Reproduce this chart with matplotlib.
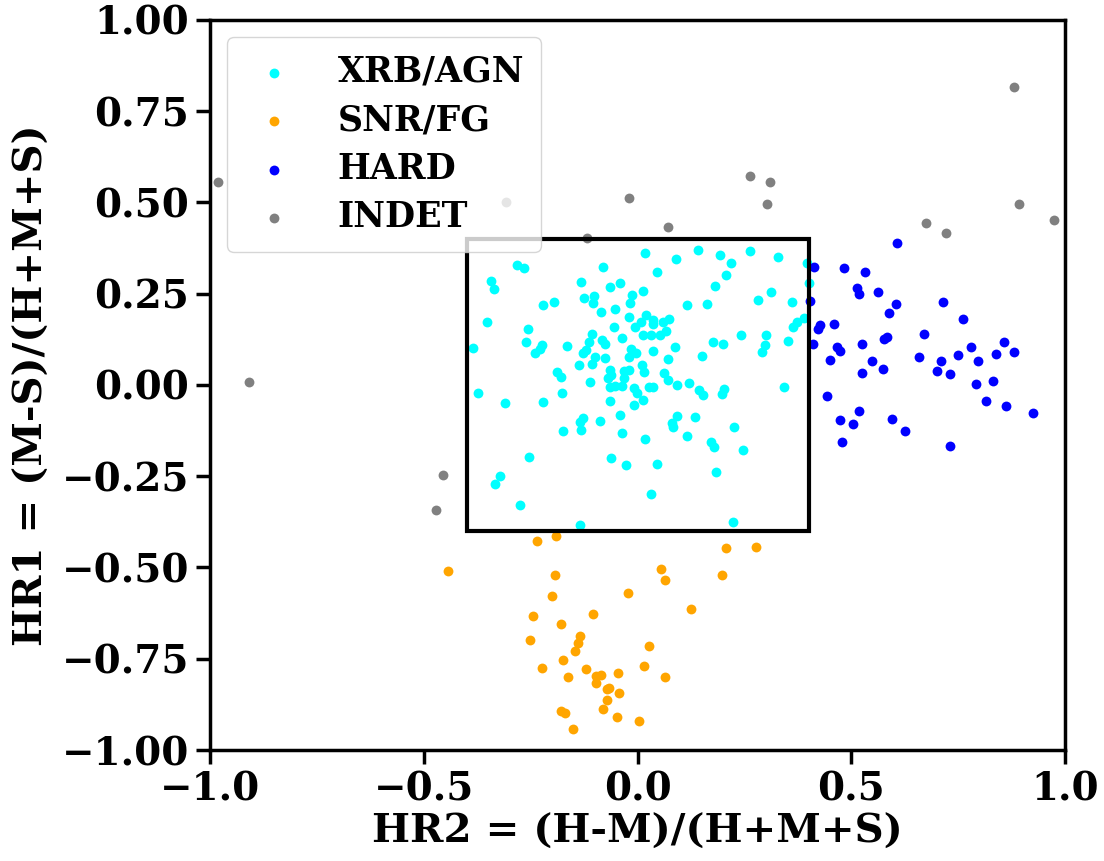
import numpy as np
import matplotlib
matplotlib.use('Agg')
import matplotlib.pyplot as plt
from matplotlib.patches import Rectangle

plt.rcParams['font.family'] = ['DejaVu Serif']
plt.rcParams['font.weight'] = 'bold'
plt.rcParams['axes.unicode_minus'] = True

# XRB/AGN (cyan)
xrb_x = [-0.283, -0.265, -0.080, -0.343, -0.336, -0.132, -0.064, -0.041, -0.014, -0.018,
         0.012, -0.125, -0.101, -0.105, -0.222, -0.195, -0.086, -0.053, -0.019, -0.351,
         -0.257, -0.056, -0.005, -0.106, -0.037, -0.261, -0.113, -0.082, -0.076, -0.385,
         -0.223, -0.228, -0.165, -0.120, -0.127, -0.240, -0.016, -0.004, -0.019, -0.100,
         -0.076, -0.136, -0.106, -0.188, -0.180, -0.065, -0.063, -0.070, -0.032, -0.020,
         -0.032, -0.112, -0.053, -0.036, -0.008, -0.002, -0.065, 0.008, 0.020, 0.037,
         0.037, 0.059, 0.074, 0.012, 0.032, 0.053, 0.067, 0.010, 0.015, 0.063,
         0.071, 0.037, 0.088, 0.071, 0.027, 0.036, 0.092, 0.120, 0.144, -0.064,
         0.013, 0.116, 0.018, 0.090, 0.142, 0.193, 0.218, 0.262, 0.328, 0.396,
         0.045, 0.207, 0.181, 0.402, 0.312, 0.283, 0.361, 0.162, 0.390, 0.372,
         0.364, 0.241, 0.300, 0.177, 0.199, 0.352, 0.298, 0.291, 0.150, 0.203,
         0.343, -0.372, -0.310, -0.220, -0.177, -0.008, -0.041, -0.128, -0.135, -0.087,
         -0.174, -0.132, -0.036, -0.253, -0.062, -0.028, -0.322, -0.333, -0.275, -0.135,
         0.154, 0.198, 0.092, 0.080, 0.084, 0.135, 0.226, 0.115, 0.018, 0.172,
         0.179, 0.246, 0.045, 0.183, 0.031, 0.224]
xrb_y = [0.329, 0.320, 0.322, 0.286, 0.263, 0.281, 0.269, 0.280, 0.247, 0.224,
         0.258, 0.237, 0.244, 0.225, 0.218, 0.227, 0.201, 0.208, 0.186, 0.173,
         0.153, 0.158, 0.160, 0.140, 0.128, 0.118, 0.119, 0.123, 0.111, 0.101,
         0.109, 0.099, 0.107, 0.097, 0.088, 0.087, 0.098, 0.087, 0.078, 0.077,
         0.073, 0.055, 0.057, 0.036, 0.023, 0.041, 0.027, 0.018, 0.038, 0.042,
         0.019, 0.008, -0.004, -0.004, -0.008, -0.021, -0.005, 0.173, 0.192, 0.178,
         0.166, 0.172, 0.180, 0.137, 0.137, 0.137, 0.149, 0.055, 0.036, 0.032,
         0.014, 0.094, 0.103, 0.071, -0.006, -0.006, 0.000, 0.005, -0.014, -0.044,
         -0.041, 0.219, 0.362, 0.345, 0.370, 0.356, 0.335, 0.367, 0.352, 0.333,
         0.309, 0.301, 0.271, 0.279, 0.256, 0.233, 0.227, 0.222, 0.183, 0.173,
         0.160, 0.136, 0.136, 0.119, 0.112, 0.121, 0.110, 0.091, 0.080, -0.010,
         -0.005, -0.021, -0.048, -0.047, -0.023, -0.055, -0.082, -0.091, -0.101, -0.099,
         -0.126, -0.123, -0.132, -0.197, -0.200, -0.218, -0.248, -0.271, -0.330, -0.384,
         -0.027, -0.025, -0.085, -0.105, -0.116, -0.088, -0.116, -0.139, -0.148, -0.155,
         -0.169, -0.179, -0.216, -0.239, -0.299, -0.375]

# SNR/FG (orange)
snr_x = [-0.234, -0.191, -0.444, -0.194, 0.056, 0.065, 0.207, 0.277, 0.198, -0.200,
         -0.022, -0.245, -0.103, 0.124, -0.180, -0.252, -0.134, -0.139, -0.146, 0.026,
         -0.175, -0.223, -0.120, 0.015, -0.162, -0.097, -0.086, -0.098, -0.046, 0.065,
         -0.072, -0.067, -0.044, -0.071, -0.080, -0.180, -0.169, -0.048, 0.004, -0.150]
snr_y = [-0.427, -0.414, -0.510, -0.521, -0.505, -0.534, -0.447, -0.443, -0.521, -0.579,
         -0.571, -0.632, -0.627, -0.613, -0.656, -0.698, -0.687, -0.707, -0.728, -0.714,
         -0.753, -0.775, -0.777, -0.769, -0.801, -0.797, -0.795, -0.816, -0.788, -0.801,
         -0.833, -0.829, -0.844, -0.863, -0.888, -0.894, -0.898, -0.910, -0.921, -0.942]

# HARD (blue)
hard_x = [0.413, 0.404, 0.427, 0.422, 0.410, 0.450, 0.443, 0.608, 0.484, 0.531,
          0.513, 0.518, 0.562, 0.604, 0.589, 0.460, 0.583, 0.577, 0.671, 0.714,
          0.466, 0.474, 0.524, 0.549, 0.574, 0.526, 0.658, 0.700, 0.710, 0.517,
          0.474, 0.504, 0.595, 0.626, 0.478, 0.761, 0.732, 0.750, 0.779, 0.796,
          0.839, 0.857, 0.881, 0.791, 0.832, 0.816, 0.861, 0.924, 0.730]
hard_y = [0.324, 0.230, 0.164, 0.153, 0.112, 0.068, -0.030, 0.388, 0.321, 0.309,
          0.265, 0.249, 0.254, 0.221, 0.196, 0.168, 0.131, 0.125, 0.139, 0.227,
          0.103, 0.094, 0.112, 0.065, 0.044, 0.032, 0.077, 0.039, 0.065, -0.072,
          -0.096, -0.108, -0.094, -0.125, -0.155, 0.182, 0.031, 0.083, 0.103, 0.065,
          0.086, 0.118, 0.091, 0.002, 0.011, -0.044, -0.057, -0.078, -0.168]

# INDET (grey)
indet_x = [-0.981, -0.909, -0.456, -0.471, -0.308, -0.119, -0.019, 0.071, 0.264, 0.309,
           0.302, 0.676, 0.721, 0.893, 0.975, 0.881]
indet_y = [0.555, 0.009, -0.247, -0.343, 0.502, 0.402, 0.513, 0.434, 0.573, 0.555,
           0.495, 0.444, 0.416, 0.497, 0.452, 0.816]

xticks = [-1.0, -0.5, 0.0, 0.5, 1.0]
yticks = [-1.0, -0.75, -0.5, -0.25, 0.0, 0.25, 0.5, 0.75, 1.0]

groups = [
    (xrb_x, xrb_y, 'cyan', 'XRB/AGN'),
    (snr_x, snr_y, 'orange', 'SNR/FG'),
    (hard_x, hard_y, 'blue', 'HARD'),
    (indet_x, indet_y, 'grey', 'INDET'),
]

fig = plt.figure(figsize=(11.04, 8.61), dpi=100)
ax = fig.add_axes([210 / 1104, 1 - 750 / 861, 855 / 1104, 730 / 861])

for gx, gy, col, lab in groups:
    ax.scatter(gx, gy, s=50, c=col, linewidths=0, label=lab)

ax.add_patch(Rectangle((-0.4, -0.4), 0.8, 0.8, fill=False, ec='black', lw=3, zorder=3))

ax.set_xlim(-1, 1)
ax.set_ylim(-1, 1)
ax.set_xticks(xticks)
ax.set_yticks(yticks)
ax.set_xticklabels([('%.1f' % v).replace('-', '\u2212') for v in xticks])
ax.set_yticklabels([('%.2f' % v).replace('-', '\u2212') for v in yticks])
ax.tick_params(labelsize=28, length=10, width=2.5, direction='out', pad=5)
for lbl in ax.get_xticklabels() + ax.get_yticklabels():
    lbl.set_fontweight('bold')
for sp in ax.spines.values():
    sp.set_linewidth(2.5)

ax.set_xlabel('HR2 = (H-M)/(H+M+S)', fontsize=29, fontweight='bold', labelpad=3)
ax.set_ylabel('HR1 = (M-S)/(H+M+S)', fontsize=29, fontweight='bold', labelpad=8)

ax.legend(loc='upper left', handlelength=1.7, handletextpad=0.97, borderpad=0.5,
          labelspacing=0.42, framealpha=0.8, prop={'weight': 'bold', 'size': 25})

fig.savefig('out.png', dpi=100)
